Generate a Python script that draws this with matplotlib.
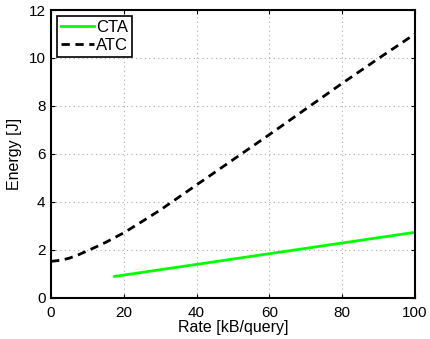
import numpy as np
import matplotlib
matplotlib.use("Agg")
import matplotlib.pyplot as plt

plt.rcParams['font.family'] = ['Liberation Sans', 'DejaVu Sans']

# CTA curve
cta_rate = [17.5, 100]
cta_energy = [0.88, 2.72]

# ATC curve
atc_rate = [0, 2.5, 5, 7.5, 10, 12.5, 15, 17.5, 20, 25, 30, 40, 50, 60, 70, 80, 90, 100]
atc_energy = [1.51, 1.55, 1.64, 1.78, 1.95, 2.12, 2.3, 2.5, 2.7, 3.17, 3.65, 4.7,
              5.75, 6.8, 7.87, 8.94, 9.98, 11.0]

fig = plt.figure(figsize=(4.3, 3.39), dpi=100)
ax = fig.add_axes([51/430, 1 - 297.5/339, 364/430, 287.5/339])

ax.plot(cta_rate, cta_energy, color='#00ff00', lw=2, label='CTA')
ax.plot(atc_rate, atc_energy, color='black', lw=2, ls=(0, (3, 2)), label='ATC')

ax.set_xlim(0, 100)
ax.set_ylim(0, 12)
ax.set_xticks([0, 20, 40, 60, 80, 100])
ax.set_yticks([0, 2, 4, 6, 8, 10, 12])
ax.grid(True, ls=(0, (1, 3)), color='#aaaaaa', lw=0.8)
ax.tick_params(direction='in', labelsize=11, length=3, top=True, right=True)
ax.tick_params(axis='x', pad=6)
ax.tick_params(axis='y', pad=4)
for s in ax.spines.values():
    s.set_linewidth(1.5)

ax.set_xlabel('Rate [kB/query]', fontsize=11.5, labelpad=0)
ax.set_ylabel('Energy [J]', fontsize=11.5, labelpad=5)

leg = ax.legend(loc='upper left', fontsize=12, handlelength=2.0, handletextpad=0.1,
                borderaxespad=0.35, borderpad=0.25, labelspacing=0.2, fancybox=False,
                framealpha=1)
leg.get_frame().set_edgecolor('black')
leg.get_frame().set_linewidth(1.2)

fig.savefig('out.png', dpi=100)
